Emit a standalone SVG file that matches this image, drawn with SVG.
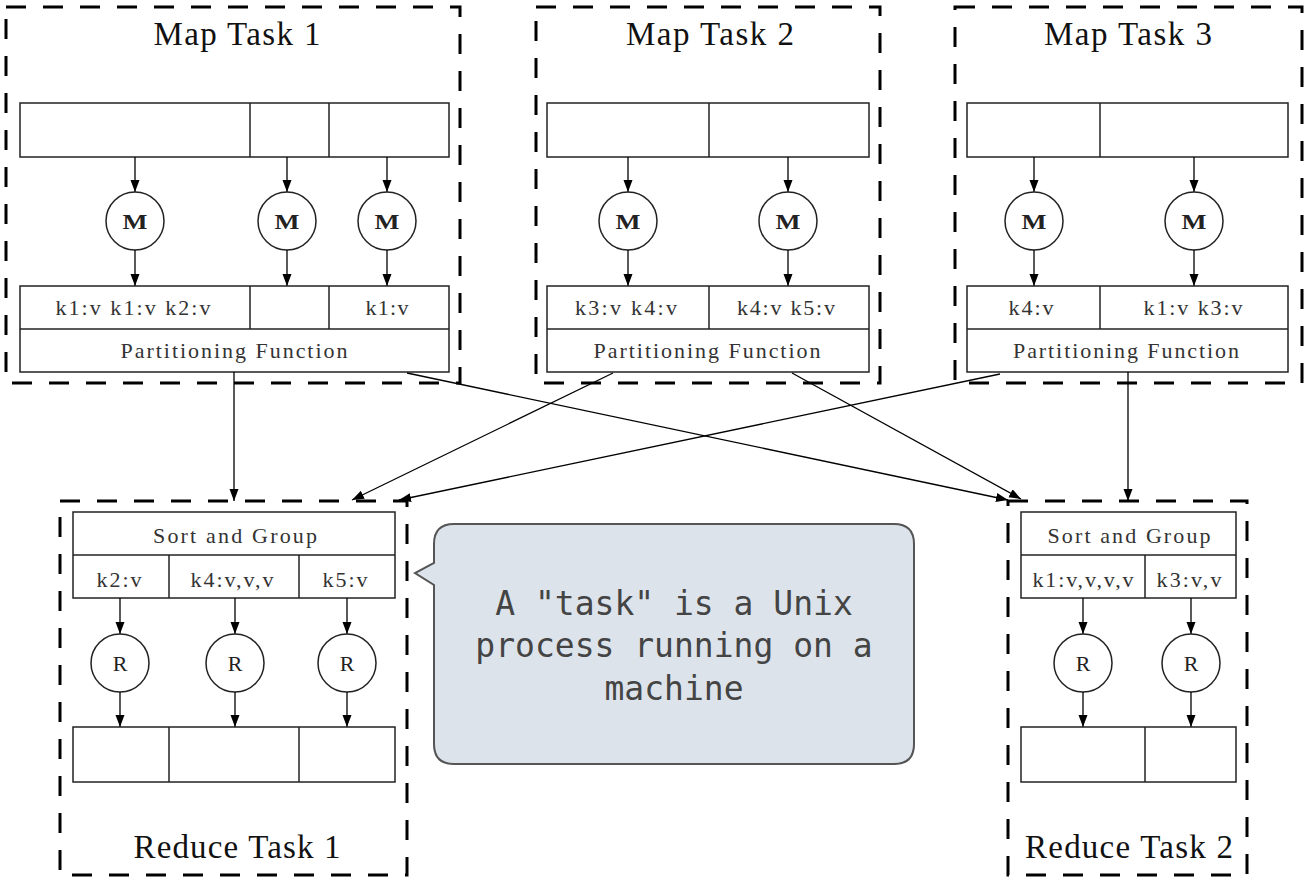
<svg xmlns="http://www.w3.org/2000/svg" width="1305" height="880" viewBox="0 0 1305 880">
<defs>
<marker id="ah" markerWidth="12" markerHeight="10" refX="12" refY="4.5" orient="auto" markerUnits="userSpaceOnUse">
<path d="M0,0 L12,4.5 L0,9 z" fill="#000"/>
</marker>
<style>
.task{fill:none;stroke:#000;stroke-width:3;stroke-dasharray:20 17}
.cell{fill:#fff;stroke:#222;stroke-width:1.5}
.div{stroke:#222;stroke-width:1.5}
.arr{stroke:#000;stroke-width:1.3;fill:none;marker-end:url(#ah)}
.circ{fill:#fff;stroke:#222;stroke-width:1.5}
.title{font-family:"Liberation Serif","DejaVu Serif",serif;font-size:33px;fill:#111;text-anchor:middle}
.lbl{font-family:"Liberation Serif","DejaVu Serif",serif;font-size:22px;fill:#333;text-anchor:middle}
.m{font-family:"Liberation Serif","DejaVu Serif",serif;font-size:22px;font-weight:bold;fill:#222;text-anchor:middle}
.r{font-family:"Liberation Serif","DejaVu Serif",serif;font-size:22px;fill:#222;text-anchor:middle}
.note{font-family:"DejaVu Sans Mono","Liberation Mono",monospace;font-size:33px;fill:#444;text-anchor:middle}
</style>
</defs>

<g id="map1">
<rect class="task" x="6" y="7" width="454" height="376"/>
<text class="title" x="237" y="45" textLength="167" lengthAdjust="spacing">Map Task 1</text>
<rect class="cell" x="20" y="103" width="429" height="54"/>
<line class="div" x1="250" y1="103" x2="250" y2="157"/>
<line class="div" x1="329" y1="103" x2="329" y2="157"/>
<line class="arr" x1="135" y1="157" x2="135" y2="192"/>
<line class="arr" x1="287" y1="157" x2="287" y2="192"/>
<line class="arr" x1="387" y1="157" x2="387" y2="192"/>
<circle class="circ" cx="135" cy="221" r="29"/>
<circle class="circ" cx="287" cy="221" r="29"/>
<circle class="circ" cx="387" cy="221" r="29"/>
<text class="m" x="135" y="229" textLength="25" lengthAdjust="spacingAndGlyphs">M</text>
<text class="m" x="287" y="229" textLength="25" lengthAdjust="spacingAndGlyphs">M</text>
<text class="m" x="387" y="229" textLength="25" lengthAdjust="spacingAndGlyphs">M</text>
<line class="arr" x1="135" y1="250" x2="135" y2="286"/>
<line class="arr" x1="287" y1="250" x2="287" y2="286"/>
<line class="arr" x1="387" y1="250" x2="387" y2="286"/>
<rect class="cell" x="20" y="286" width="429" height="86"/>
<line class="div" x1="20" y1="329" x2="449" y2="329"/>
<line class="div" x1="250" y1="286" x2="250" y2="329"/>
<line class="div" x1="329" y1="286" x2="329" y2="329"/>
<text class="lbl" x="133" y="315" textLength="155" lengthAdjust="spacing">k1:v k1:v k2:v</text>
<text class="lbl" x="387" y="315" textLength="43" lengthAdjust="spacing">k1:v</text>
<text class="lbl" x="234" y="358" textLength="227" lengthAdjust="spacing">Partitioning Function</text>
</g>

<g id="map2">
<rect class="task" x="536" y="7" width="344" height="376"/>
<text class="title" x="710" y="45" textLength="168" lengthAdjust="spacing">Map Task 2</text>
<rect class="cell" x="547" y="103" width="322" height="54"/>
<line class="div" x1="709" y1="103" x2="709" y2="157"/>
<line class="arr" x1="628" y1="157" x2="628" y2="192"/>
<line class="arr" x1="788" y1="157" x2="788" y2="192"/>
<circle class="circ" cx="628" cy="221" r="29"/>
<circle class="circ" cx="788" cy="221" r="29"/>
<text class="m" x="628" y="229" textLength="25" lengthAdjust="spacingAndGlyphs">M</text>
<text class="m" x="788" y="229" textLength="25" lengthAdjust="spacingAndGlyphs">M</text>
<line class="arr" x1="628" y1="250" x2="628" y2="286"/>
<line class="arr" x1="788" y1="250" x2="788" y2="286"/>
<rect class="cell" x="547" y="286" width="322" height="86"/>
<line class="div" x1="547" y1="329" x2="869" y2="329"/>
<line class="div" x1="709" y1="286" x2="709" y2="329"/>
<text class="lbl" x="626" y="315" textLength="102" lengthAdjust="spacing">k3:v k4:v</text>
<text class="lbl" x="786" y="315" textLength="98" lengthAdjust="spacing">k4:v k5:v</text>
<text class="lbl" x="707" y="358" textLength="227" lengthAdjust="spacing">Partitioning Function</text>
</g>

<g id="map3">
<rect class="task" x="955" y="7" width="347" height="376"/>
<text class="title" x="1128" y="45" textLength="168" lengthAdjust="spacing">Map Task 3</text>
<rect class="cell" x="967" y="103" width="321" height="54"/>
<line class="div" x1="1100" y1="103" x2="1100" y2="157"/>
<line class="arr" x1="1034" y1="157" x2="1034" y2="192"/>
<line class="arr" x1="1194" y1="157" x2="1194" y2="192"/>
<circle class="circ" cx="1034" cy="221" r="29"/>
<circle class="circ" cx="1194" cy="221" r="29"/>
<text class="m" x="1034" y="229" textLength="25" lengthAdjust="spacingAndGlyphs">M</text>
<text class="m" x="1194" y="229" textLength="25" lengthAdjust="spacingAndGlyphs">M</text>
<line class="arr" x1="1034" y1="250" x2="1034" y2="286"/>
<line class="arr" x1="1194" y1="250" x2="1194" y2="286"/>
<rect class="cell" x="967" y="286" width="321" height="86"/>
<line class="div" x1="967" y1="329" x2="1288" y2="329"/>
<line class="div" x1="1100" y1="286" x2="1100" y2="329"/>
<text class="lbl" x="1031" y="315" textLength="45" lengthAdjust="spacing">k4:v</text>
<text class="lbl" x="1193" y="315" textLength="99" lengthAdjust="spacing">k1:v k3:v</text>
<text class="lbl" x="1126" y="358" textLength="226" lengthAdjust="spacing">Partitioning Function</text>
</g>

<g id="reduce1">
<rect class="task" x="60" y="501" width="347" height="374"/>
<rect class="cell" x="73" y="512" width="322" height="86"/>
<line class="div" x1="73" y1="555" x2="395" y2="555"/>
<line class="div" x1="169" y1="555" x2="169" y2="598"/>
<line class="div" x1="299" y1="555" x2="299" y2="598"/>
<text class="lbl" x="235" y="543" textLength="164" lengthAdjust="spacing">Sort and Group</text>
<text class="lbl" x="119" y="587" textLength="45" lengthAdjust="spacing">k2:v</text>
<text class="lbl" x="232" y="587" textLength="83" lengthAdjust="spacing">k4:v,v,v</text>
<text class="lbl" x="345" y="587" textLength="45" lengthAdjust="spacing">k5:v</text>
<line class="arr" x1="120" y1="598" x2="120" y2="634"/>
<line class="arr" x1="235" y1="598" x2="235" y2="634"/>
<line class="arr" x1="347" y1="598" x2="347" y2="634"/>
<circle class="circ" cx="120" cy="663" r="29"/>
<circle class="circ" cx="235" cy="663" r="29"/>
<circle class="circ" cx="347" cy="663" r="29"/>
<text class="r" x="120" y="671">R</text>
<text class="r" x="235" y="671">R</text>
<text class="r" x="347" y="671">R</text>
<line class="arr" x1="120" y1="692" x2="120" y2="727"/>
<line class="arr" x1="235" y1="692" x2="235" y2="727"/>
<line class="arr" x1="347" y1="692" x2="347" y2="727"/>
<rect class="cell" x="73" y="727" width="322" height="55"/>
<line class="div" x1="169" y1="727" x2="169" y2="782"/>
<line class="div" x1="299" y1="727" x2="299" y2="782"/>
<text class="title" x="237" y="858" textLength="207" lengthAdjust="spacing">Reduce Task 1</text>
</g>

<g id="reduce2">
<rect class="task" x="1008" y="501" width="239" height="374"/>
<rect class="cell" x="1021" y="512" width="215" height="86"/>
<line class="div" x1="1021" y1="555" x2="1236" y2="555"/>
<line class="div" x1="1145" y1="555" x2="1145" y2="598"/>
<text class="lbl" x="1129" y="543" textLength="163" lengthAdjust="spacing">Sort and Group</text>
<text class="lbl" x="1083" y="587" textLength="101" lengthAdjust="spacing">k1:v,v,v,v</text>
<text class="lbl" x="1189" y="587" textLength="65" lengthAdjust="spacing">k3:v,v</text>
<line class="arr" x1="1083" y1="598" x2="1083" y2="634"/>
<line class="arr" x1="1191" y1="598" x2="1191" y2="634"/>
<circle class="circ" cx="1083" cy="663" r="29"/>
<circle class="circ" cx="1191" cy="663" r="29"/>
<text class="r" x="1083" y="671">R</text>
<text class="r" x="1191" y="671">R</text>
<line class="arr" x1="1083" y1="692" x2="1083" y2="727"/>
<line class="arr" x1="1191" y1="692" x2="1191" y2="727"/>
<rect class="cell" x="1021" y="727" width="215" height="55"/>
<line class="div" x1="1145" y1="727" x2="1145" y2="782"/>
<text class="title" x="1129" y="858" textLength="208" lengthAdjust="spacing">Reduce Task 2</text>
</g>

<g id="connectors">
<line class="arr" x1="234" y1="372" x2="234" y2="501"/>
<line class="arr" x1="407" y1="373" x2="1008" y2="500"/>
<line class="arr" x1="613" y1="373" x2="352" y2="500"/>
<line class="arr" x1="792" y1="373" x2="1021" y2="499"/>
<line class="arr" x1="1000" y1="374" x2="399" y2="500"/>
<line class="arr" x1="1128" y1="372" x2="1128" y2="501"/>
</g>

<g id="callout">
<path d="M454,524 H894 Q914,524 914,544 V744 Q914,764 894,764 H454 Q434,764 434,744 V585 L415,573 L434,563 V544 Q434,524 454,524 Z" fill="#dce3ea" stroke="#555" stroke-width="2"/>
<text class="note" x="674" y="615">A "task" is a Unix</text>
<text class="note" x="674" y="657">process running on a</text>
<text class="note" x="674" y="700">machine</text>
</g>
</svg>
